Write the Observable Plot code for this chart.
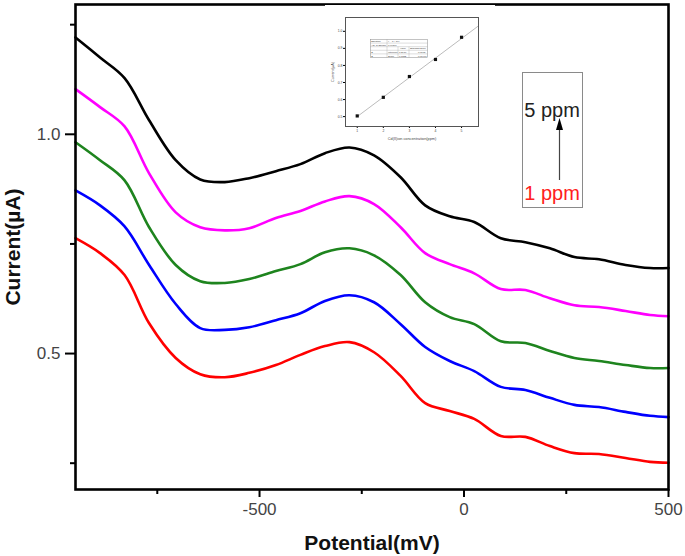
<!DOCTYPE html>
<html>
<head>
<meta charset="utf-8">
<script src="https://cdn.jsdelivr.net/npm/d3@7"></script>
<script src="https://cdn.jsdelivr.net/npm/@observablehq/plot@0.6"></script>
<style>
  body { margin: 0; background: #fff; }
  #wrap { position: relative; width: 685px; height: 556px; font-family: Arial, "Liberation Sans", sans-serif; }
  #wrap svg { display: block; }
  #main g[aria-label="x-axis label"] text, #main g[aria-label="y-axis label"] text { font-weight: bold; font-size: 21px; fill: #111; }
  #main g[aria-label="x-axis tick label"] text, #main g[aria-label="y-axis tick label"] text { fill: #444; font-size: 17px; }
  #inset { position: absolute; left: 325px; top: 5px; }
  #inset g[aria-label="x-axis tick label"] text, #inset g[aria-label="y-axis tick label"] text { fill: #444; font-size: 3.4px; }
  #inset g[aria-label="x-axis label"] text, #inset g[aria-label="y-axis label"] text { fill: #444; font-size: 3.8px; }
  #legend { position: absolute; left: 522px; top: 72px; width: 61px; height: 136px; border: 1.5px solid #8a8a8a; box-sizing: border-box; }
  #legend .t { position: absolute; left: 0; width: 58px; text-align: center; font-size: 20px; line-height: 20px; white-space: nowrap; }
</style>
</head>
<body>
<div id="wrap">
  <div id="main"></div>
  <div id="inset"></div>
  <div id="legend">
    <div class="t" style="top:27px;color:#222;">5 ppm</div>
    <svg width="60" height="135" style="position:absolute;left:0;top:0;">
      <line x1="36.5" y1="107" x2="36.5" y2="55" stroke="#444" stroke-width="1.2"></line>
      <path d="M33 57 L36.5 45 L40 57 Z" fill="#000"></path>
    </svg>
    <div class="t" style="top:110px;color:#ff2020;">1 ppm</div>
  </div>
</div>
<script>
// Potential (mV)
const potential = [-950, -890, -830, -770, -705, -645, -585, -525, -460, -400, -340, -280, -220, -155, -95, -35, 25, 90, 150, 210, 270, 330, 395, 455, 500];
// Current (µA) for each concentration
const ppm5 = [1.221, 1.175, 1.128, 1.032, 0.941, 0.897, 0.891, 0.900, 0.916, 0.932, 0.957, 0.970, 0.952, 0.902, 0.838, 0.813, 0.800, 0.763, 0.754, 0.740, 0.720, 0.715, 0.702, 0.695, 0.695];
const ppm4 = [1.103, 1.062, 1.018, 0.911, 0.822, 0.788, 0.781, 0.786, 0.809, 0.825, 0.847, 0.859, 0.841, 0.788, 0.729, 0.704, 0.683, 0.647, 0.645, 0.626, 0.610, 0.606, 0.597, 0.588, 0.585];
const ppm3 = [0.982, 0.941, 0.895, 0.788, 0.702, 0.665, 0.661, 0.670, 0.688, 0.704, 0.731, 0.740, 0.724, 0.679, 0.617, 0.583, 0.567, 0.528, 0.524, 0.506, 0.490, 0.483, 0.474, 0.467, 0.467];
const ppm2 = [0.872, 0.838, 0.790, 0.702, 0.613, 0.558, 0.554, 0.560, 0.576, 0.592, 0.620, 0.633, 0.617, 0.567, 0.515, 0.483, 0.460, 0.424, 0.417, 0.399, 0.383, 0.378, 0.367, 0.358, 0.355];
const ppm1 = [0.763, 0.729, 0.679, 0.569, 0.490, 0.453, 0.446, 0.456, 0.474, 0.497, 0.517, 0.526, 0.503, 0.449, 0.387, 0.369, 0.351, 0.312, 0.310, 0.289, 0.273, 0.271, 0.262, 0.253, 0.251];
const seriesNames = ["5 ppm", "4 ppm", "3 ppm", "2 ppm", "1 ppm"];
const seriesColors = ["#000000", "#ff00ff", "#1e841e", "#0000ff", "#ff0000"];
const xMajor = [-500, 0, 500];
const xMinor = [-750, -250, 250];
const yMajor = [0.5, 1.0];
const yMinor = [0.25, 0.75, 1.25];

// Inset calibration data
const concentration = [1, 2, 3, 4, 5];
const peakCurrent = [0.504, 0.613, 0.735, 0.835, 0.965];
const fitX = [1, 5.65];
const fitY = [0.50, 1.032];
const insetYTicks = [0.5, 0.6, 0.7, 0.8, 0.9, 1.0];
const insetXTicks = [1, 2, 3, 4, 5];

const seriesValues = [ppm5, ppm4, ppm3, ppm2, ppm1];
const rows = seriesValues.flatMap((vals, i) => vals.map((v, j) => ({x: potential[j], y: v, s: seriesNames[i]})));

const main = Plot.plot({
  width: 685, height: 556,
  marginLeft: 75, marginRight: 17, marginTop: 4, marginBottom: 67,
  style: {fontFamily: 'Arial, "Liberation Sans", sans-serif', fontSize: "17px", background: "#fff"},
  x: {domain: [-950, 500]},
  y: {domain: [0.19, 1.296]},
  color: {domain: seriesNames, range: seriesColors},
  marks: [
    Plot.axisX({ticks: xMajor, tickSize: 8, tickPadding: 5, strokeWidth: 2, stroke: "#000", tickFormat: d => String(d), label: "Potential(mV)", labelArrow: "none", labelAnchor: "center", labelOffset: 60, fontSize: 17}),
    Plot.axisX({ticks: xMinor, tickSize: 5, strokeWidth: 2, stroke: "#000", tickFormat: () => "", label: null}),
    Plot.axisY({ticks: yMajor, tickSize: 10, tickPadding: 5, strokeWidth: 2, stroke: "#000", tickFormat: d3.format(".1f"), label: "Current(µA)", labelArrow: "none", labelAnchor: "center", labelOffset: 70, fontSize: 17}),
    Plot.axisY({ticks: yMinor, tickSize: 5, strokeWidth: 2, stroke: "#000", tickFormat: () => "", label: null}),
    Plot.line(rows, {x: "x", y: "y", z: "s", stroke: "s", strokeWidth: 2.6, curve: "catmull-rom"}),
    Plot.frame({stroke: "#000", strokeWidth: 2.6})
  ]
});
document.getElementById("main").append(main);

const insetPts = concentration.map((c, i) => ({x: c, y: peakCurrent[i]}));
const fitPts = fitX.map((x, i) => ({x, y: fitY[i]}));
const inset = Plot.plot({
  width: 170, height: 138,
  marginLeft: 20, marginRight: 17, marginTop: 12, marginBottom: 17,
  style: {fontFamily: 'Arial, "Liberation Sans", sans-serif', fontSize: "3.4px", background: "#fff"},
  x: {domain: [0.55, 5.65]},
  y: {domain: [0.442, 1.081]},
  marks: [
    Plot.axisX({ticks: insetXTicks, tickSize: 2, tickPadding: 1, fontSize: 3.4, tickFormat: d => String(d), label: "Cd(II)ion concentration(ppm)", labelArrow: "none", labelAnchor: "center", labelOffset: 13}),
    Plot.axisY({ticks: insetYTicks, tickSize: 2, tickPadding: 1, fontSize: 3.4, tickFormat: d3.format(".1f"), label: "Current(µA)", labelArrow: "none", labelAnchor: "center", labelOffset: 14}),
    Plot.line(fitPts, {x: "x", y: "y", stroke: "#aaa", strokeWidth: 0.8}),
    Plot.dot(insetPts, {x: "x", y: "y", symbol: "square", r: 1.8, fill: "#111"}),
    Plot.frame({stroke: "#555", strokeWidth: 1})
  ]
});
document.getElementById("inset").append(inset);

// small fit-results table inside the inset
const tbl = `
<svg width="60" height="20" style="position:absolute;left:45px;top:34px;" font-family="Arial, Liberation Sans, sans-serif" font-size="2.4">
  <rect x="0.5" y="0.5" width="57" height="18" fill="#fff" stroke="#888" stroke-width="0.5"/>
  <g stroke="#aaa" stroke-width="0.4">
    <line x1="0" x2="57.5" y1="4.1" y2="4.1"/><line x1="0" x2="57.5" y1="7.7" y2="7.7"/>
    <line x1="0" x2="57.5" y1="11.3" y2="11.3"/><line x1="0" x2="57.5" y1="14.9" y2="14.9"/>
    <line x1="17" x2="17" y1="0" y2="18.5"/><line x1="28" x2="28" y1="7.7" y2="18.5"/><line x1="39" x2="39" y1="7.7" y2="18.5"/>
  </g>
  <g fill="#333">
    <text x="1.2" y="3.2">Equation</text><text x="18" y="3.2">y = a + b*x</text>
    <text x="1.2" y="6.8">Adj. R-Square</text><text x="18" y="6.8">0.99596</text>
    <text x="30" y="10.4">Value</text><text x="40" y="10.4">Standard Error</text>
    <text x="1.2" y="14">B</text><text x="18" y="14">Intercept</text><text x="29" y="14">0.3916</text><text x="48" y="14">0.0165</text>
    <text x="1.2" y="17.6">B</text><text x="18" y="17.6">Slope</text><text x="29" y="17.6">0.1152</text><text x="48" y="17.6">0.00497</text>
  </g>
</svg>`;
document.getElementById("inset").insertAdjacentHTML("beforeend", tbl);
</script>
</body>
</html>
